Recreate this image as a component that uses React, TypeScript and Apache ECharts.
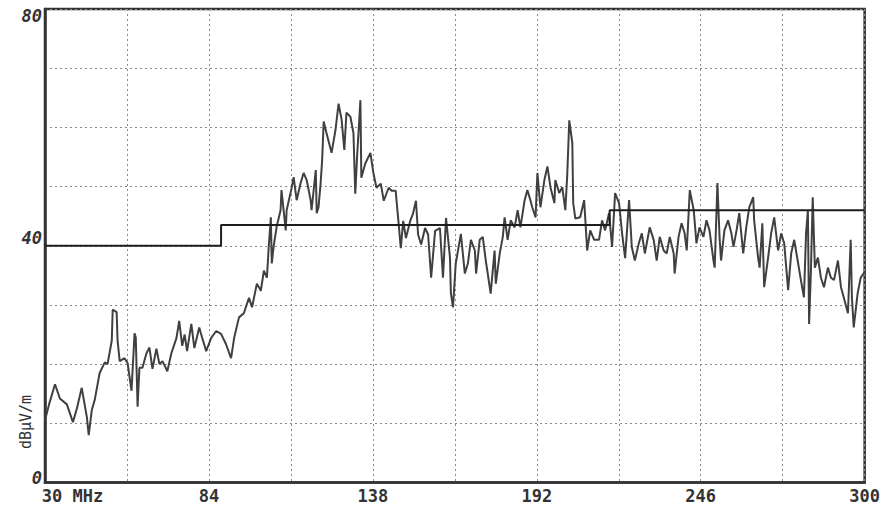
import React, { useEffect, useRef } from "react";
import * as echarts from "echarts";

// Measured trace: frequency (MHz) and level (dBμV/m)
const freqMHz = [
  30.0, 31.5, 33.3, 34.9, 37.2, 39.2, 40.5, 42.1, 43.8, 44.4, 45.4, 46.4, 48.0, 49.7, 50.6, 52.0, 52.3, 53.6, 53.9, 54.6,
  56.2, 57.2, 58.5, 59.5, 59.9, 60.5, 61.1, 62.1, 63.4, 64.4, 65.4, 66.7, 67.7, 68.7, 70.3, 71.6, 73.3, 74.2, 75.2, 76.0,
  76.8, 78.2, 79.2, 80.8, 81.8, 83.1, 84.7, 86.4, 88.0, 89.6, 91.3, 92.3, 93.9, 95.5, 97.2, 98.2, 99.8, 101.1, 102.1, 103.1,
  103.7, 104.4, 104.7, 105.3, 106.3, 107.6, 107.9, 109.3, 109.6, 111.3, 111.9, 112.9, 114.2, 115.2, 116.2, 117.5, 117.8, 119.2, 119.5, 120.1,
  120.8, 121.3, 121.8, 122.7, 124.4, 125.7, 126.7, 127.7, 128.6, 129.3, 130.6, 131.6, 132.2, 132.8, 133.9, 134.2, 135.5, 137.2, 138.2, 139.2,
  140.6, 141.6, 143.2, 144.2, 145.5, 146.5, 147.2, 148.0, 148.9, 150.3, 151.2, 152.2, 152.9, 153.9, 155.2, 156.2, 157.2, 158.5, 160.1, 161.1,
  162.1, 163.4, 163.7, 164.4, 165.3, 167.0, 168.3, 169.3, 170.3, 171.6, 172.0, 173.2, 174.2, 175.2, 176.5, 176.8, 178.1, 178.5, 179.8, 180.8,
  181.4, 182.4, 183.4, 184.7, 185.7, 186.6, 188.0, 188.9, 189.9, 190.5, 191.6, 192.2, 193.2, 194.5, 195.5, 196.5, 197.8, 198.1, 199.4, 200.4,
  201.4, 202.0, 202.7, 203.7, 204.0, 204.7, 206.3, 207.6, 208.6, 209.6, 210.9, 212.5, 213.5, 214.5, 215.8, 216.8, 217.8, 219.1, 220.1, 221.1,
  222.4, 223.3, 224.3, 225.6, 226.6, 227.6, 229.2, 230.5, 231.5, 232.5, 233.8, 234.8, 235.8, 237.1, 237.4, 238.7, 239.7, 240.7, 241.4, 242.4,
  243.7, 244.6, 245.6, 246.9, 247.9, 248.9, 250.2, 250.6, 251.5, 252.2, 252.7, 253.8, 255.0, 256.1, 256.8, 257.8, 258.7, 260.0, 261.0, 262.0,
  263.3, 263.6, 264.9, 265.4, 266.3, 266.9, 268.2, 269.2, 270.2, 271.5, 272.5, 273.5, 274.8, 275.8, 276.8, 278.1, 279.0, 280.0, 280.7, 281.3,
  281.7, 282.3, 282.9, 283.6, 284.6, 285.6, 286.6, 287.9, 288.9, 289.9, 291.2, 292.2, 293.1, 294.5, 295.4, 295.8, 296.4, 297.7, 298.7, 300.0,
];
const levelDb = [
  10.5, 13.5, 16.6, 14.2, 13.2, 10.2, 12.5, 16.0, 11.0, 8.0, 12.2, 14.0, 18.5, 20.3, 20.0, 24.0, 29.2, 28.8, 24.0, 20.5,
  21.0, 20.2, 15.5, 25.2, 24.5, 12.8, 19.4, 19.4, 21.8, 22.8, 19.2, 22.6, 20.0, 20.5, 18.8, 21.8, 24.4, 27.3, 23.1, 25.0,
  22.2, 26.8, 22.7, 26.2, 24.4, 22.2, 24.4, 25.6, 25.1, 23.4, 21.0, 24.4, 27.9, 28.6, 31.2, 29.6, 33.6, 32.4, 35.8, 34.6,
  39.8, 44.8, 37.0, 39.8, 43.2, 46.0, 49.4, 42.6, 46.0, 49.9, 51.6, 47.7, 50.6, 52.3, 51.1, 47.7, 46.0, 52.8, 45.5, 46.5,
  50.6, 54.5, 61.0, 59.1, 55.7, 59.6, 64.0, 61.3, 56.2, 62.5, 61.8, 59.1, 48.8, 55.0, 64.6, 51.5, 53.9, 55.7, 52.2, 49.8,
  50.5, 47.6, 49.8, 49.3, 49.3, 43.7, 39.6, 44.2, 41.3, 44.2, 45.4, 47.6, 41.9, 40.2, 43.0, 41.9, 34.6, 42.5, 43.0, 34.6,
  44.7, 38.0, 32.0, 29.6, 37.0, 42.0, 35.3, 37.0, 41.0, 39.2, 35.3, 41.0, 41.5, 37.5, 33.0, 31.9, 39.2, 33.6, 38.7, 41.5,
  44.8, 41.0, 44.3, 43.1, 46.0, 43.1, 47.7, 49.4, 47.7, 46.5, 44.8, 52.3, 46.5, 51.1, 53.4, 49.9, 47.2, 51.1, 48.9, 49.9,
  46.0, 51.6, 61.2, 57.4, 47.2, 44.6, 44.8, 47.7, 39.2, 42.6, 41.0, 41.0, 44.3, 42.6, 45.5, 39.8, 48.9, 47.2, 42.1, 37.9,
  47.7, 39.8, 37.5, 40.4, 42.1, 38.7, 43.1, 41.0, 37.5, 41.5, 39.2, 38.7, 41.5, 38.7, 35.3, 41.5, 43.8, 42.1, 39.2, 49.4,
  46.0, 40.4, 43.1, 41.5, 44.3, 42.6, 37.5, 36.3, 50.6, 41.5, 37.5, 42.6, 44.3, 42.1, 39.8, 42.6, 45.5, 38.7, 43.1, 46.5,
  48.2, 44.3, 38.0, 36.3, 43.8, 33.0, 38.0, 42.1, 44.8, 39.2, 42.1, 40.4, 32.5, 38.7, 41.0, 37.0, 34.2, 31.3, 42.1, 46.0,
  26.8, 35.8, 48.2, 36.3, 38.0, 34.6, 33.0, 36.3, 34.6, 34.2, 37.5, 33.0, 31.3, 28.6, 41.0, 31.3, 26.2, 32.0, 34.6, 35.6,
];

// Limit line (step)
const limitFreq = [30, 88, 88, 216, 216, 300];
const limitDb = [40, 40, 43.5, 43.5, 46, 46];

// Tick labels shown
const xTickLabels: Record<number, string> = { 30: "30 MHz", 84: "84", 138: "138", 192: "192", 246: "246", 300: "300" };
const yTickLabels: Record<number, string> = { 0: "0", 40: "40", 80: "80" };
const unitLabel = "dBμV/m";

const FONT = "'DejaVu Sans Mono', monospace";

export default function App() {
  const ref = useRef<HTMLDivElement>(null);
  useEffect(() => {
    if (!ref.current) return;
    const chart = echarts.init(ref.current, null, { renderer: "svg" });
    const trace = freqMHz.map((f, i) => [f, levelDb[i]]);
    const limit = limitFreq.map((f, i) => [f, limitDb[i]]);
    chart.setOption({
      animation: false,
      backgroundColor: "#ffffff",
      grid: {
        left: 45,
        right: 14,
        top: 9,
        bottom: 28.5,
        show: true,
        borderColor: "#333",
        borderWidth: 2.5,
        backgroundColor: "transparent",
      },
      xAxis: {
        type: "value",
        min: 30,
        max: 300,
        interval: 27,
        axisLine: { show: true, lineStyle: { color: "#333", width: 2.5 } },
        axisTick: { show: false },
        splitLine: { show: true, lineStyle: { color: "#8a8a8a", type: [2, 3], width: 1 } },
        axisLabel: {
          show: true,
          margin: 5,
          color: "#333",
          fontFamily: FONT,
          fontWeight: "bold",
          fontSize: 17,
          formatter: (v: number) => {
            const s = xTickLabels[Math.round(v)];
            if (!s) return "";
            if (Math.round(v) === 30) return "{first|" + s + "}";
            return s;
          },
          rich: {
            first: {
              padding: [0, 0, 0, 55],
              color: "#333",
              fontFamily: FONT,
              fontWeight: "bold",
              fontSize: 17,
            },
          },
        },
      },
      yAxis: {
        type: "value",
        min: 0,
        max: 80,
        interval: 10,
        axisLine: { show: true, lineStyle: { color: "#333", width: 2.5 } },
        axisTick: { show: false },
        splitLine: { show: true, lineStyle: { color: "#8a8a8a", type: [2, 3], width: 1 } },
        axisLabel: {
          show: true,
          margin: 3,
          color: "#333",
          fontFamily: FONT,
          fontWeight: "bold",
          fontStyle: "italic",
          fontSize: 17,
          formatter: (v: number) => {
            const s = yTickLabels[Math.round(v)];
            if (!s) return "";
            if (v === 80) return "{top|" + s + "}";
            if (v === 40) return "{mid|" + s + "}";
            return "{bot|" + s + "}";
          },
          rich: {
            top: { padding: [14, 0, 0, 0], color: "#333", fontFamily: FONT, fontWeight: "bold", fontStyle: "italic", fontSize: 17 },
            mid: { padding: [0, 0, 16, 0], color: "#333", fontFamily: FONT, fontWeight: "bold", fontStyle: "italic", fontSize: 17 },
            bot: { padding: [0, 0, 10, 0], color: "#333", fontFamily: FONT, fontWeight: "bold", fontStyle: "italic", fontSize: 17 },
          },
        },
      },
      graphic: [
        {
          type: "text",
          x: 26,
          y: 422,
          rotation: Math.PI / 2,
          style: {
            text: unitLabel,
            fill: "#333",
            font: "15px " + FONT,
            align: "center",
            verticalAlign: "middle",
          },
        },
      ],
      series: [
        {
          type: "line",
          data: limit,
          showSymbol: false,
          silent: true,
          lineStyle: { color: "#1e1e1e", width: 2 },
          z: 4,
        },
        {
          type: "line",
          data: trace,
          showSymbol: false,
          silent: true,
          lineStyle: { color: "#404040", width: 2 },
          z: 3,
        },
      ],
    });
    return () => chart.dispose();
  }, []);
  return (
    <div
      ref={ref}
      style={{ position: "fixed", left: 0, top: 0, width: 883, height: 511, background: "#fff" }}
    />
  );
}
